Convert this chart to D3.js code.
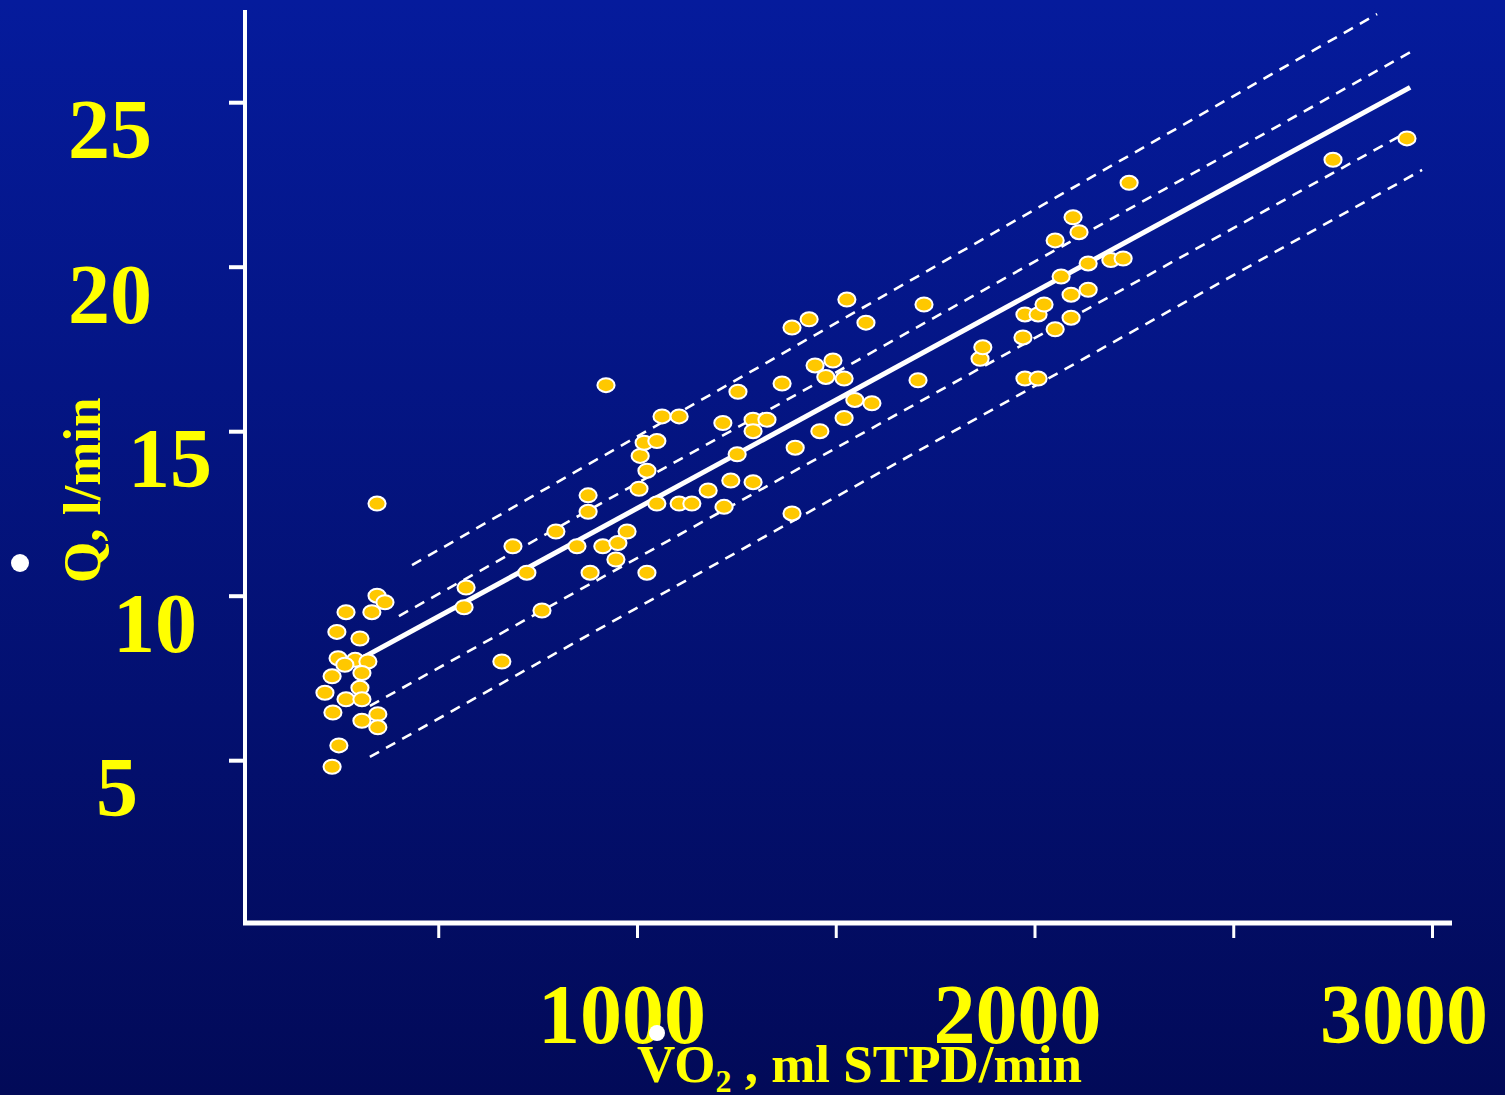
<!DOCTYPE html>
<html>
<head>
<meta charset="utf-8">
<script src="https://cdnjs.cloudflare.com/ajax/libs/d3/7.8.5/d3.min.js"></script>
<style>
  body { margin: 0; background: #020b5c; }
  svg { display: block; }
  .label {
    font-family: "Liberation Serif", "Times New Roman", serif;
    font-weight: bold;
    fill: #ffff00;
  }
</style>
</head>
<body>
<div class="chart"></div>
<script>
var svgWidth = 1505;
var svgHeight = 1095;

// measured points: oxygen uptake (ml STPD/min) vs cardiac output (l/min)
var vo2 = [346, 346, 366, 268, 333, 245, 303, 248, 291, 265, 323, 308, 233, 303, 215, 268, 308, 235, 348, 308, 348, 250, 233,
  570, 565, 688, 723, 761, 660, 796, 849, 877, 877, 914, 952, 975, 947, 882, 1025, 922, 1005, 1025, 1008, 1018, 1050,
  1063, 1106, 1050, 1106, 1138, 1179, 1236, 1292, 1219, 1252, 1216, 1292, 1327, 1292, 1254, 1365, 1398, 1390, 1460,
  1521, 1548, 1591, 1448, 1493, 1475, 1521, 1390, 1433, 1528, 1576, 1722, 1707,
  1863, 1870, 1971, 1976, 2009, 2024, 2052, 2092, 2092, 2135, 1976, 2009, 2052, 2097, 2112, 2067, 2135, 2192, 2223,
  2238, 2751, 2937];

var qValues = [12.8, 10.0, 9.8, 9.5, 9.5, 8.9, 8.7, 8.1, 8.05, 7.9, 8.0, 7.65, 7.55, 7.2, 7.05, 6.85, 6.85, 6.45, 6.4, 6.2, 6.0, 5.45, 4.8,
  10.25, 9.65, 11.5, 10.7, 9.55, 8.0, 11.95, 11.5, 13.05, 12.55, 11.5, 11.6, 11.95, 11.1, 10.7, 10.7, 16.4, 13.25, 13.8, 14.25, 14.65, 14.7,
  15.45, 15.45, 12.8, 12.8, 12.8, 13.2, 13.5, 13.45, 12.7, 14.3, 15.25, 15.35, 15.35, 15.0, 16.2, 16.45, 14.5, 12.5, 15.0,
  15.4, 15.95, 15.85, 17.0, 17.15, 16.65, 16.6, 18.15, 18.4, 19.0, 18.3, 18.85, 16.55,
  17.2, 17.55, 17.85, 18.55, 18.55, 18.85, 18.1, 18.45, 19.15, 19.3, 16.6, 16.6, 20.8, 21.5, 21.05, 19.7, 20.1, 20.2, 20.25,
  22.55, 23.25, 23.9];

// regression line and the dashed bands (start / end)
var fitVO2 = [285, 2945];
var fitQ = [7.95, 25.45];
var bandVO2 = [[434, 2862], [401, 2947], [328, 2937], [328, 2975]];
var bandQ = [[10.93, 27.68], [9.38, 26.53], [6.65, 24.09], [5.10, 22.94]];

// ticks
var xTicks = [500, 1000, 1500, 2000, 2500, 3000];
var xTickLabels = [1000, 2000, 3000];
var yTicks = [5, 10, 15, 20, 25];

// label nudges, as laid out on the slide
var xLabelDx = [-15, -17, -28];
var yLabelRight = [138, 197, 212, 152, 152];

var svg = d3
  .select(".chart")
  .append("svg")
  .attr("width", svgWidth)
  .attr("height", svgHeight);

// background gradient
var grad = svg.append("defs")
  .append("linearGradient")
  .attr("id", "bg")
  .attr("x1", 0).attr("y1", 0)
  .attr("x2", 0).attr("y2", 1);
grad.append("stop").attr("offset", "0%").attr("stop-color", "#051b9c");
grad.append("stop").attr("offset", "100%").attr("stop-color", "#020a58");

svg.append("rect")
  .attr("width", svgWidth)
  .attr("height", svgHeight)
  .attr("fill", "url(#bg)");

var xScale = d3.scaleLinear()
  .domain([0, 3000])
  .range([239.5, 1432]);

var yScale = d3.scaleLinear()
  .domain([0, 25])
  .range([924.7, 102.2]);

// dashed bands
bandVO2.forEach(function(xs, i) {
  svg.append("line")
    .attr("x1", xScale(xs[0]))
    .attr("y1", yScale(bandQ[i][0]))
    .attr("x2", xScale(xs[1]))
    .attr("y2", yScale(bandQ[i][1]))
    .attr("stroke", "white")
    .attr("stroke-width", 2.6)
    .attr("stroke-dasharray", "10.5,8");
});

// regression line
svg.append("line")
  .attr("x1", xScale(fitVO2[0]))
  .attr("y1", yScale(fitQ[0]))
  .attr("x2", xScale(fitVO2[1]))
  .attr("y2", yScale(fitQ[1]))
  .attr("stroke", "white")
  .attr("stroke-width", 5);

// points
var points = vo2.map(function(v, i) {
  return { vo2: v, q: qValues[i] };
});

svg.selectAll("ellipse.pt")
  .data(points)
  .enter()
  .append("ellipse")
  .attr("class", "pt")
  .attr("cx", d => xScale(d.vo2))
  .attr("cy", d => yScale(d.q))
  .attr("rx", 8.6)
  .attr("ry", 7)
  .attr("fill", "#ffc800")
  .attr("stroke", "white")
  .attr("stroke-width", 2);

// axes
var xAxis = svg.append("g")
  .attr("transform", "translate(0, 925)")
  .call(d3.axisBottom(xScale).tickValues(xTicks).tickSize(13).tickFormat(""));
xAxis.select(".domain").remove();
xAxis.selectAll("line").attr("stroke", "white").attr("stroke-width", 3);

var yAxis = svg.append("g")
  .attr("transform", "translate(245, 0)")
  .call(d3.axisLeft(yScale).tickValues(yTicks).tickSize(16).tickFormat(""));
yAxis.select(".domain").remove();
yAxis.selectAll("line").attr("stroke", "white").attr("stroke-width", 4);

svg.append("line")
  .attr("x1", 245).attr("y1", 10)
  .attr("x2", 245).attr("y2", 925)
  .attr("stroke", "white")
  .attr("stroke-width", 4);

svg.append("line")
  .attr("x1", 243).attr("y1", 923)
  .attr("x2", 1452).attr("y2", 923)
  .attr("stroke", "white")
  .attr("stroke-width", 5);

// tick labels
svg.selectAll("text.xlab")
  .data(xTickLabels)
  .enter()
  .append("text")
  .attr("class", "label xlab")
  .attr("x", (d, i) => xScale(d) + xLabelDx[i])
  .attr("y", 1043)
  .attr("text-anchor", "middle")
  .attr("font-size", "84px")
  .text(d => d);

svg.selectAll("text.ylab")
  .data(yTicks)
  .enter()
  .append("text")
  .attr("class", "label ylab")
  .attr("x", (d, i) => yLabelRight[i])
  .attr("y", d => yScale(d) + 56)
  .attr("text-anchor", "end")
  .attr("font-size", "84px")
  .text(d => d);

// axis titles
var xTitle = svg.append("text")
  .attr("class", "label")
  .attr("x", 637)
  .attr("y", 1082)
  .attr("font-size", "53px");
xTitle.append("tspan").text("VO");
xTitle.append("tspan").attr("font-size", "32px").attr("dy", 10).text("2");
xTitle.append("tspan").attr("dy", -10).text(" , ml STPD/min");

svg.append("text")
  .attr("class", "label")
  .attr("transform", "translate(100, 583) rotate(-90)")
  .attr("font-size", "53px")
  .text("Q, l/min");

// slide bullets
svg.append("circle").attr("cx", 20).attr("cy", 563).attr("r", 9).attr("fill", "white");
svg.append("circle").attr("cx", 657).attr("cy", 1033).attr("r", 8).attr("fill", "white");
</script>
</body>
</html>
